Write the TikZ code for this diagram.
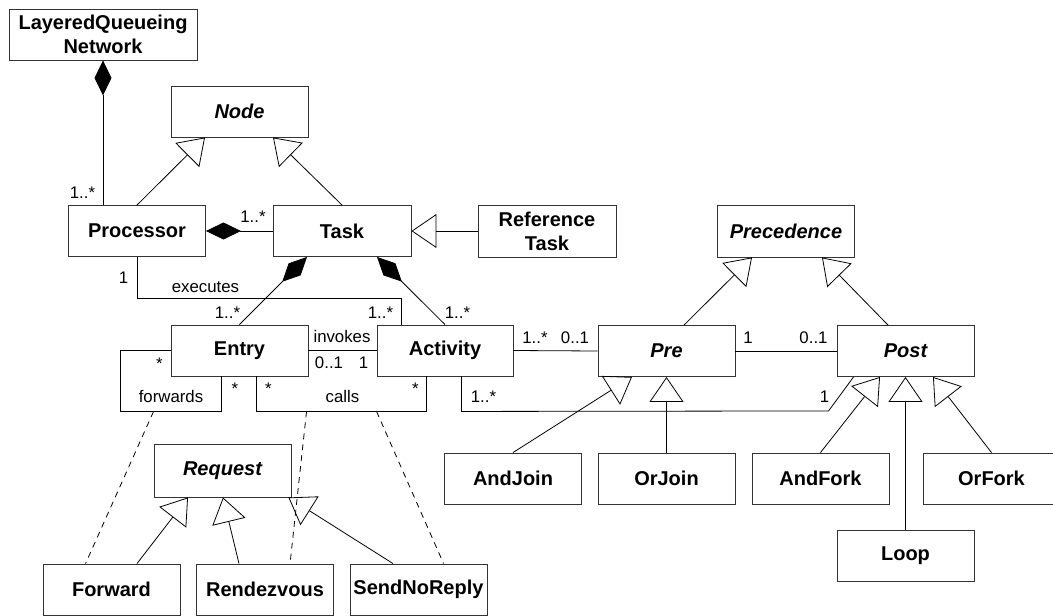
\documentclass[tikz,border=0pt]{standalone}
\usepackage{fontspec}
\setmainfont{Liberation Sans}
\usetikzlibrary{arrows.meta,calc}
\begin{document}
\begin{tikzpicture}[x=1pt,y=-1pt,
  stroke/.style={draw=black!80, line width=0.9pt},
  cls/.style={stroke, rectangle, minimum width=137pt, minimum height=51pt,
    inner sep=0pt, align=center, font=\fontsize{20}{24}\selectfont\bfseries},
  abstract/.style={cls, font=\fontsize{20}{24}\selectfont\bfseries\itshape},
  lab/.style={inner sep=0pt, anchor=base, font=\fontsize{16.8}{20}\selectfont},
  assoc/.style={draw=black, line width=0.8pt},
  gen/.style={assoc, -{Triangle[open, length=25pt, width=34pt]}},
  comp/.style={assoc, {Diamond[length=35pt, width=17pt, fill=black]}-},
  link/.style={assoc, dash pattern=on 6pt off 5pt},
]
\useasboundingbox (0,0) rectangle (1053,616);
\clip (0,0) rectangle (1053,616);

% classes
\node[cls, minimum width=188pt] (lqn) at (103,34.5) {LayeredQueueing\\Network};
\node[abstract] (nodecls) at (239.5,111.5) {Node};
\node[cls] (proc) at (137,231) {Processor};
\node[cls, minimum width=138pt] (task) at (342,231) {Task};
\node[cls, minimum width=138pt, minimum height=52pt] (reftask) at (547,231) {Reference\\Task};
\node[abstract, minimum height=52pt] (prec) at (786,231) {Precedence};
\node[cls] (entry) at (239.5,350.5) {Entry};
\node[cls, minimum width=136pt] (activity) at (445,350.5) {Activity};
\node[abstract] (pre) at (666.5,351) {Pre};
\node[abstract] (post) at (905.5,351) {Post};
\node[abstract, minimum height=53pt] (request) at (222.5,470.5) {Request};
\node[cls] (forward) at (111.5,589.5) {Forward};
\node[cls] (rendezvous) at (265,589.5) {Rendezvous};
\node[cls] (sendnoreply) at (418.5,589.5) {SendNoReply};
\node[cls] (andjoin) at (513,478.5) {AndJoin};
\node[cls] (orjoin) at (666.5,478.5) {OrJoin};
\node[cls] (andfork) at (820.5,478.5) {AndFork};
\node[cls] (orfork) at (991.5,478.5) {OrFork};
\node[cls] (loop) at (905.5,555.5) {Loop};

% generalizations
\draw[gen] (proc.north) -- ($(nodecls.south)+(-34.5,0)$);
\draw[gen] (task.north) -- ($(nodecls.south)+(33.5,0)$);
\draw[gen] (reftask.west) -- (task.east);
\draw[gen] ($(pre.north)+(17.5,0)$) -- ($(prec.south)+(-34,0)$);
\draw[gen] ($(post.north)+(-17.5,0)$) -- ($(prec.south)+(36,0)$);
\draw[gen] ($(forward.north)+(25.5,0)$) -- ($(request.south)+(-34.5,0)$);
\draw[gen] ($(rendezvous.north)+(-26,0)$) -- ($(request.south)+(0.5,0)$);
\draw[gen] ($(sendnoreply.north)+(-25.5,0)$) -- ($(request.south east)+(-3,0)$);
\draw[gen] (andjoin.north) -- ($(pre.south)+(-34.5,0)$);
\draw[gen] (orjoin.north) -- (pre.south);
\draw[gen] (andfork.north) -- ($(post.south)+(-25.5,0)$);
\draw[gen] (loop.north) -- (post.south);
\draw[gen] (orfork.north) -- ($(post.south)+(27.5,0)$);

% compositions
\draw[comp] (lqn.south) -- (lqn.south |- proc.north);
\draw[comp] (proc.east) -- (task.west);
\draw[comp] ($(task.south)+(-35,0)$) -- (entry.north);
\draw[comp] ($(task.south)+(35,0)$) -- (activity.north);

% associations
\draw[assoc] (proc.south) |- ($(activity.north west)+(25,-26)$) -- ($(activity.north west)+(25,0)$);
\draw[assoc] (entry.east) -- (activity.west);
\coordinate (fw) at ($(entry.south west)+(-50,35)$);
\draw[assoc] (entry.west) -| (fw) -- ($(entry.south west)+(51,35)$) -- ($(entry.south west)+(51,0)$);
\coordinate (cl) at ($(entry.south west)+(86,35)$);
\draw[assoc] ($(entry.south west)+(86,0)$) -- (cl) -| ($(activity.south west)+(50,0)$);
\draw[assoc] (activity.east) -- (pre.west);
\draw[assoc] (pre.east) -- (post.west);
\draw[assoc] ($(activity.south west)+(85,0)$) -- ++(0,35) -- ($(post.south west)+(-8,34)$) -- ($(post.south west)+(17,0)$);

% association classes
\draw[link] ($(fw)+(33,0)$) -- ($(forward.north west)+(43,0)$);
\draw[link] ($(cl)+(50,0)$) -- ($(rendezvous.north west)+(94,0)$);
\draw[link] ($(cl)+(120,0)$) -- ($(sendnoreply.north west)+(94,0)$);

% multiplicities and role names
\node[lab] at (82.5,198) {1..*};
\node[lab] at (253,222.5) {1..*};
\node[lab] at (123.5,283) {1};
\node[lab] at (205.5,292) {executes};
\node[lab] at (227.5,318) {1..*};
\node[lab] at (380.5,318) {1..*};
\node[lab] at (457.5,318) {1..*};
\node[lab] at (342,342.5) {invokes};
\node[lab] at (329,368) {0..1};
\node[lab] at (363.5,368) {1};
\node[lab] at (159.5,369) {*};
\node[lab] at (171,402) {forwards};
\node[lab] at (235,394) {*};
\node[lab] at (268.5,394) {*};
\node[lab] at (342.5,402) {calls};
\node[lab] at (415.5,394) {*};
\node[lab] at (535,343) {1..*};
\node[lab] at (575,343) {0..1};
\node[lab] at (748,343) {1};
\node[lab] at (813.5,343) {0..1};
\node[lab] at (483.5,402) {1..*};
\node[lab] at (824.5,402) {1};
\end{tikzpicture}
\end{document}
